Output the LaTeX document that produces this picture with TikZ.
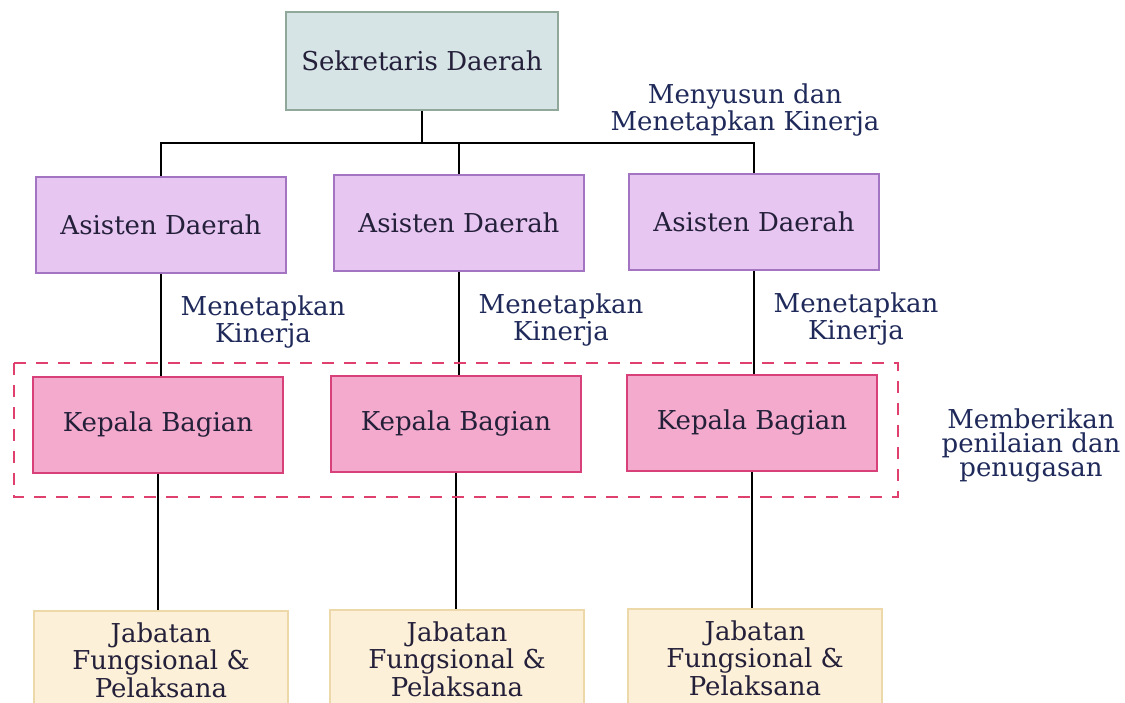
\documentclass[tikz,border=0pt]{standalone}
\usepackage{fontspec}
\setmainfont{DejaVu Serif}
\usepackage{tikz}
\usetikzlibrary{calc,positioning}

\definecolor{sekfill}{HTML}{D6E4E6}
\definecolor{sekline}{HTML}{8FA89A}
\definecolor{asfill}{HTML}{E8C6F2}
\definecolor{asline}{HTML}{A274C2}
\definecolor{kbfill}{HTML}{F4AACC}
\definecolor{kbline}{HTML}{D8407A}
\definecolor{jffill}{HTML}{FCF0D8}
\definecolor{jfline}{HTML}{ECD8A8}
\definecolor{dashred}{HTML}{E0406E}
\definecolor{inktext}{HTML}{24203A}
\definecolor{navytext}{HTML}{1F2A5A}

\tikzset{
  box/.style={draw, line width=0.8pt, text=inktext, align=center, inner sep=2pt,
    font=\fontsize{13}{12}\selectfont},
  sekbox/.style={box, fill=sekfill, draw=sekline, minimum width=136pt, minimum height=49pt},
  asbox/.style={box, fill=asfill, draw=asline, minimum width=125pt, minimum height=48pt},
  kbbox/.style={box, fill=kbfill, draw=kbline, minimum width=125pt, minimum height=48pt},
  jfbox/.style={box, fill=jffill, draw=jfline, minimum width=127pt, minimum height=49pt},
  lbl/.style={text=navytext, align=center, inner sep=0pt, font=\fontsize{13}{12}\selectfont},
  link/.style={line width=1.1pt, black},
  dashbox/.style={draw=dashred, line width=1.2pt, dash pattern=on 6pt off 5pt}
}

\begin{document}
\begin{tikzpicture}[x=0.5pt,y=-0.5pt]
\clip (0,0) rectangle (1125,702);
\node[sekbox] (sek) at (422,61) {Sekretaris Daerah};
\coordinate (bus) at (422,143);
\foreach \i/\xa/\ya/\xk/\yk/\xj/\yj in {1/161/225/158/425/161/660, 2/459/223/456/424/457/659, 3/754/222/752/423/755/658}{
  \node[asbox] (as\i) at (\xa,\ya) {Asisten Daerah};
  \node[kbbox] (kb\i) at (\xk,\yk) {Kepala Bagian};
  \node[jfbox] (jf\i) at (\xj,\yj) {Jabatan\\Fungsional \&\\Pelaksana};
  \node[lbl] (tk\i) at ($(as\i.south)+(102,48)$) {Menetapkan\\Kinerja};
  \draw[link] (as\i.south) -- (as\i.south |- kb\i.north);
  \draw[link] (kb\i.south) -- (kb\i.south |- jf\i.north);
}
\draw[link] (sek.south) -- (bus);
\draw[link] (as1.north) -- (as1.north |- bus) -- (as3.north |- bus) -- (as3.north);
\draw[link] (as2.north) -- (as2.north |- bus);
\node[lbl] (susun) at (745,110) {Menyusun dan\\Menetapkan Kinerja};
\draw[dashbox] (14,363) rectangle (898,497);
\node[lbl] (nilai) at (1031,446) {Memberikan\\penilaian dan\\penugasan};
\end{tikzpicture}
\end{document}
